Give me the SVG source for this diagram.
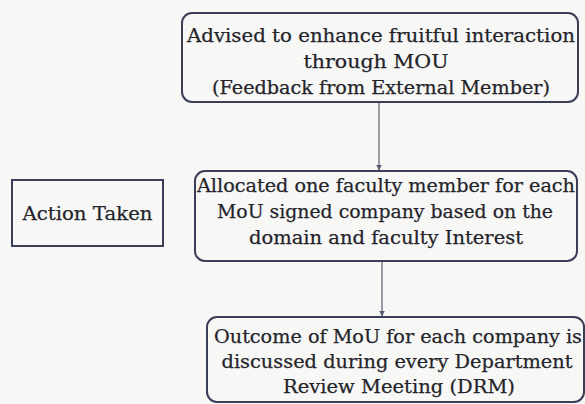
<svg xmlns="http://www.w3.org/2000/svg" width="585" height="404" viewBox="0 0 585 404">
<defs>
<style>
.bg{fill:#f7f7f6}
.box{fill:none;stroke:#3b3e58;stroke-width:2}
.t{font-family:"DejaVu Serif","Liberation Serif",serif;font-size:18.5px;fill:#24242a;stroke:#24242a;stroke-width:0.25;text-anchor:middle}
.c{stroke:#5a5d70;stroke-width:1.2;fill:none}
</style>
<marker id="ah" markerWidth="6" markerHeight="7" refX="5.5" refY="3" orient="auto" markerUnits="userSpaceOnUse">
<path d="M0,0 L6,3 L0,6 Z" fill="#5a5d70"/>
</marker>
</defs>
<rect class="bg" width="585" height="404"/>
<g id="connectors">
<line class="c" x1="379" y1="102" x2="379" y2="170" marker-end="url(#ah)"/>
<line class="c" x1="382" y1="261" x2="382" y2="316" marker-end="url(#ah)"/>
</g>
<g id="n1">
<rect class="box" x="182" y="13" width="396" height="89" rx="10"/>
<text class="t" x="381" y="42" textLength="388" lengthAdjust="spacingAndGlyphs">Advised to enhance fruitful interaction</text>
<text class="t" x="376" y="68" textLength="145" lengthAdjust="spacingAndGlyphs">through MOU</text>
<text class="t" x="381" y="94" textLength="338" lengthAdjust="spacingAndGlyphs">(Feedback from External Member)</text>
</g>
<g id="action">
<rect class="box" x="12" y="180" width="151" height="66"/>
<text class="t" x="87.5" y="220" textLength="130" lengthAdjust="spacingAndGlyphs">Action Taken</text>
</g>
<g id="n2">
<rect class="box" x="195" y="171" width="382" height="90" rx="10"/>
<text class="t" x="386" y="192" textLength="378" lengthAdjust="spacingAndGlyphs">Allocated one faculty member for each</text>
<text class="t" x="385" y="218" textLength="336" lengthAdjust="spacingAndGlyphs">MoU signed company based on the</text>
<text class="t" x="386" y="244" textLength="274" lengthAdjust="spacingAndGlyphs">domain and faculty Interest</text>
</g>
<g id="n3">
<rect class="box" x="207" y="317" width="377" height="85" rx="10"/>
<text class="t" x="398" y="343" textLength="368" lengthAdjust="spacingAndGlyphs">Outcome of MoU for each company is</text>
<text class="t" x="397" y="368" textLength="351" lengthAdjust="spacingAndGlyphs">discussed during every Department</text>
<text class="t" x="399" y="393" textLength="232" lengthAdjust="spacingAndGlyphs">Review Meeting (DRM)</text>
</g>
</svg>
